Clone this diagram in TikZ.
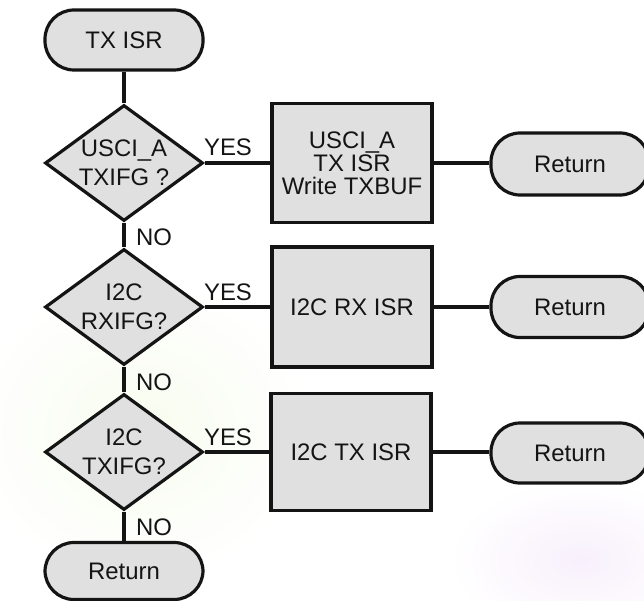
\documentclass[tikz,border=0pt]{standalone}
\usepackage{fontspec}
\setmainfont{Liberation Sans}
\usetikzlibrary{shapes.geometric}
\definecolor{boxfill}{RGB}{224,224,224}
\definecolor{ink}{RGB}{20,20,20}
\definecolor{greenhaze}{RGB}{247,252,238}
\definecolor{lilachaze}{RGB}{248,240,252}
\begin{document}
\begin{tikzpicture}[x=1bp,y=-1bp,
  every node/.style={font=\fontsize{24}{23}\selectfont, text=ink},
  shapebase/.style={draw=ink, line width=3.2bp, fill=boxfill, inner sep=0pt},
  terminal/.style={shapebase, rectangle, rounded corners=29bp,
    minimum width=158bp, minimum height=60bp},
  decision/.style={shapebase, diamond, minimum width=158bp, minimum height=116bp},
  question/.style={align=center, inner sep=0pt, font=\fontsize{24}{29}\selectfont},
  process/.style={shapebase, rectangle, minimum width=160bp, minimum height=119bp,
    align=center},
  link/.style={draw=ink, line width=3.2bp},
  answer/.style={inner sep=0pt}]
\useasboundingbox (0,0) rectangle (644,601);
\clip (0,0) rectangle (644,601);

% faint, soft background tints
\shade[inner color=greenhaze, outer color=white]
  (140,430) ellipse [x radius=170bp, y radius=150bp];
\shade[inner color=lilachaze, outer color=white]
  (580,560) ellipse [x radius=130bp, y radius=80bp];

% main column
\node[terminal] (start) at (124,40) {TX ISR};
\node[decision] (d1) at (124,163) {};
\node[decision] (d2) at (124,307) {};
\node[decision] (d3) at (124,452) {};
\node[terminal, minimum height=57bp] (stop) at (124,571) {Return};

% questions inside the decisions
\node[question] (q1) at (d1) {USCI\_A\\TXIFG ?};
\node[question] (q2) at (d2) {I2C\\RXIFG?};
\node[question] (q3) at (d3) {I2C\\TXIFG?};

% handlers
\node[process] (p1) at (352,163) {USCI\_A\\TX ISR\\Write TXBUF};
\node[process, minimum height=120bp] (p2) at (352,307) {I2C RX ISR};
\node[process, minimum height=117bp] (p3) at (351,452) {I2C TX ISR};

% returns on the right
\node[terminal, minimum height=62bp] (r1) at (570,164) {Return};
\node[terminal, minimum height=61bp] (r2) at (570,307) {Return};
\node[terminal, minimum height=60bp] (r3) at (570,453) {Return};

% connectors
\draw[link] (start) -- (d1);
\draw[link] (d1) -- (d2);
\draw[link] (d2) -- (d3);
\draw[link] (d3) -- (stop);
\draw[link] (d1) -- (p1);
\draw[link] (d2) -- (p2);
\draw[link] (d3) -- (p3);
\draw[link] (p1.east) -- (p1.east -| r1.west);
\draw[link] (p2) -- (r2);
\draw[link] (p3.east) -- (p3.east -| r3.west);

% branch labels
\node[answer] (y1) at (228,147) {YES};
\node[answer] (y2) at (228,292) {YES};
\node[answer] (y3) at (228,437) {YES};
\node[answer, anchor=west] (n1) at (136,237) {NO};
\node[answer, anchor=west] (n2) at (136,382) {NO};
\node[answer, anchor=west] (n3) at (136,527) {NO};
\end{tikzpicture}
\end{document}
